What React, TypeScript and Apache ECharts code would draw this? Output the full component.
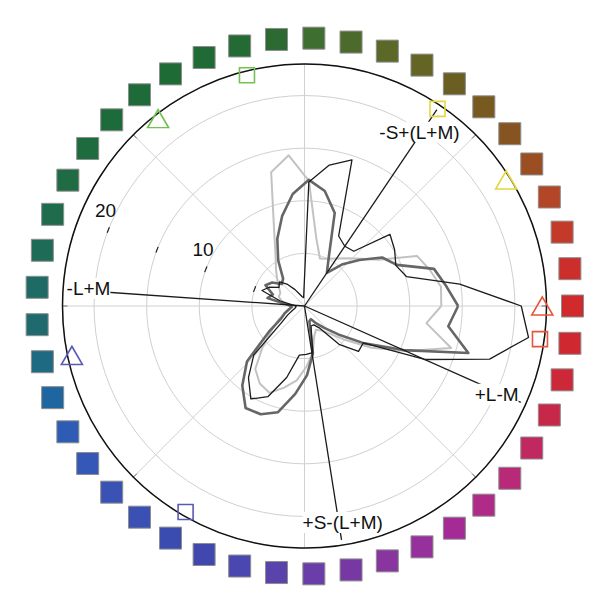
import { useEffect, useRef } from "react";
import * as echarts from "echarts";

// hue angles of the 45 test colours (degrees, counter-clockwise from +L-M)
const hueAngles = [
  0, 8, 16, 24, 32, 40, 48, 56, 64, 72, 80, 88, 96, 104, 112, 120, 128, 136, 144, 152, 160, 168,
  176, 184, 192, 200, 208, 216, 224, 232, 240, 248, 256, 264, 272, 280, 288, 296, 304, 312, 320,
  328, 336, 344, 352
];

const hueColors = [
  "#d02a2c", "#cc2e2c", "#c43a2a", "#b24626", "#9a4e22", "#865420", "#785a20", "#6a5e22",
  "#646424", "#5a6828", "#4c6a2c", "#3e6e30", "#2c6a32", "#246a34", "#206b35", "#1e6b36",
  "#1d6b38", "#1d6b3a", "#1e6b3e", "#1e6b44", "#1e6c4c", "#1e6c58", "#1e6b66", "#1e6a6e",
  "#1e6a82", "#1e66a0", "#2e5cb4", "#3558b8", "#3a52b4", "#3a50b2", "#3b4cb0", "#4048b0",
  "#4a48b0", "#5a44ac", "#6a3ea8", "#7838a4", "#8835a0", "#96309c", "#a42a95", "#b02a88",
  "#b82a78", "#c22860", "#c82848", "#cc2838", "#d02830"
];

const blackResponse = [
  20.6, 14.9, 10.1, 9.5, 10.1, 10.6, 7.0, 6.85, 7.4, 14.6, 13.6, 11.8, 0.8, 0.9, 1.2, 1.8, 2.6,
  3.3, 3.0, 3.8, 4.3, 2.4, 1.0, 0.8, 0.9, 1.2, 1.8, 2.7, 6.7, 8.65, 10.2, 9.3, 7.0, 4.7, 4.6, 4.5,
  2.0, 2.0, 2.5, 4.9, 6.7, 6.6, 12.5, 18.3, 21.5
];

const darkResponse = [
  14.6, 13.6, 12.8, 9.6, 8.7, 6.8, 5.3, 3.8, 5.3, 9.3, 11.1, 12.0, 10.7, 8.8, 6.9, 5.0, 3.3, 3.0,
  3.8, 4.2, 3.2, 3.6, 1.5, 1.2, 1.5, 2.0, 2.5, 4.2, 7.6, 9.6, 11.2, 11.1, 10.4, 8.4, 6.6, 4.6, 1.5,
  1.4, 2.0, 2.8, 4.2, 6.7, 10.3, 16.2, 13.8
];

const lightResponse = [
  13.0, 13.1, 12.4, 11.7, 8.3, 7.0, 6.1, 5.45, 5.0, 4.75, 6.5, 11.9, 14.4, 13.1, 7.7, 5.5, 4.4,
  3.6, 3.0, 2.6, 2.6, 2.2, 1.6, 1.3, 1.5, 2.0, 2.8, 3.8, 5.5, 7.6, 8.5, 8.9, 8.0, 7.1, 5.75, 4.5,
  3.0, 2.5, 2.8, 3.5, 5.0, 7.5, 10.5, 14.5, 11.7
];

const markerColors = ["#e8553a", "#e2d83c", "#72c152", "#5a5ab2"];
const triangleAngles = [0, 32, 128, 192];
const squareAngles = [352, 56, 104, 240];
const markerRadius = 22.6;

const axisNames = ["-S+(L+M)", "-L+M", "+S-(L+M)", "+L-M"];
const axisAngles = [56, 176, 279, 336];
const axisLength = 22.5;
const nameRadius = [19.8, 20.6, 20.9, 20.1];
const nameAngles = [56.5, 175.3, 280, 335.3];

const radiusTicks = [5, 10, 15, 20];
const radiusLabels = [10, 20];

const font = "Liberation Sans, Arial, Helvetica, sans-serif";
const center = [304.5, 306];

const closed = (values: number[]) => [
  ...values.map((v, i) => [v, hueAngles[i]]),
  [values[0], 360]
];

export default function App() {
  const ref = useRef<HTMLDivElement | null>(null);

  useEffect(() => {
    if (!ref.current) {
      return;
    }
    document.body.style.margin = "0";
    const instance = echarts.init(ref.current, null, { renderer: "svg" });

    const responseLine = (values: number[], color: string, width: number, z: number) => ({
      type: "line",
      coordinateSystem: "polar",
      polarIndex: 0,
      data: closed(values),
      showSymbol: false,
      symbol: "none",
      z,
      lineStyle: { color, width, join: "round" }
    });

    instance.setOption({
      animation: false,
      backgroundColor: "#ffffff",
      polar: [
        { center, radius: 242 },
        { center, radius: 242 },
        { center, radius: 268 }
      ],
      angleAxis: [
        {
          polarIndex: 0,
          type: "value",
          min: 0,
          max: 360,
          interval: 45,
          startAngle: 0,
          clockwise: false,
          axisLine: { lineStyle: { color: "#111111", width: 1.5 } },
          axisTick: { show: true, inside: true, length: 5, lineStyle: { color: "#111111" } },
          axisLabel: { show: false },
          splitLine: { show: true, lineStyle: { color: "#d0d0d0", width: 1 } }
        },
        {
          polarIndex: 1,
          type: "value",
          min: 0,
          max: 360,
          startAngle: 158,
          clockwise: false,
          show: false
        },
        {
          polarIndex: 2,
          type: "value",
          min: 0,
          max: 360,
          startAngle: 0,
          clockwise: false,
          show: false
        }
      ],
      radiusAxis: [
        {
          polarIndex: 0,
          min: 0,
          max: 23,
          interval: 5,
          axisLine: { show: false },
          axisTick: { show: false },
          axisLabel: { show: false },
          splitLine: { show: true, lineStyle: { color: "#d0d0d0", width: 1 } }
        },
        {
          polarIndex: 1,
          min: 0,
          max: 23,
          interval: 5,
          axisLine: { show: false },
          splitLine: { show: false },
          axisTick: {
            show: true,
            length: 6,
            customValues: radiusTicks,
            lineStyle: { color: "#222222", width: 1.2 }
          },
          axisLabel: {
            customValues: radiusLabels,
            formatter: (v: number) => (radiusLabels.includes(v) ? String(v) : ""),
            margin: -18,
            fontSize: 19,
            color: "#111111",
            fontFamily: font
          }
        },
        { polarIndex: 2, min: 0, max: 1, show: false }
      ],
      series: [
        responseLine(lightResponse, "#c2c2c2", 2, 3),
        responseLine(darkResponse, "#666666", 2.6, 4),
        responseLine(blackResponse, "#1c1c1c", 1.3, 5),
        ...axisAngles.map((a) => ({
          type: "line",
          coordinateSystem: "polar",
          polarIndex: 0,
          data: [
            [0, a],
            [axisLength, a]
          ],
          showSymbol: false,
          symbol: "none",
          z: 6,
          lineStyle: { color: "#1a1a1a", width: 1.3 }
        })),
        {
          type: "scatter",
          coordinateSystem: "polar",
          polarIndex: 0,
          symbolSize: 1,
          z: 8,
          itemStyle: { color: "transparent", opacity: 1 },
          label: {
            show: true,
            position: "inside",
            formatter: "{b}",
            fontSize: 19,
            color: "#111111",
            fontFamily: font,
            backgroundColor: "#ffffff",
            padding: [1, 0]
          },
          data: axisNames.map((n, i) => ({ name: n, value: [nameRadius[i], nameAngles[i]] }))
        },
        {
          type: "scatter",
          coordinateSystem: "polar",
          polarIndex: 0,
          symbol: "triangle",
          symbolSize: [21, 18],
          z: 7,
          data: triangleAngles.map((a, i) => ({
            value: [markerRadius, a],
            itemStyle: {
              color: "transparent",
              borderColor: markerColors[i],
              borderWidth: 1.6,
              opacity: 1
            }
          }))
        },
        {
          type: "scatter",
          coordinateSystem: "polar",
          polarIndex: 0,
          symbol: "rect",
          symbolSize: 15,
          z: 7,
          data: squareAngles.map((a, i) => ({
            value: [markerRadius, a],
            itemStyle: {
              color: "transparent",
              borderColor: markerColors[i],
              borderWidth: 1.6,
              opacity: 1
            }
          }))
        },
        {
          type: "scatter",
          coordinateSystem: "polar",
          polarIndex: 2,
          symbol: "rect",
          symbolSize: 22,
          z: 2,
          data: hueAngles.map((a, i) => ({
            value: [1, a],
            itemStyle: {
              color: hueColors[i],
              borderColor: "#8e8e8e",
              borderWidth: 1,
              opacity: 1
            }
          }))
        }
      ]
    });

    return () => {
      instance.dispose();
    };
  }, []);

  return <div ref={ref} style={{ width: 608, height: 612 }} />;
}
